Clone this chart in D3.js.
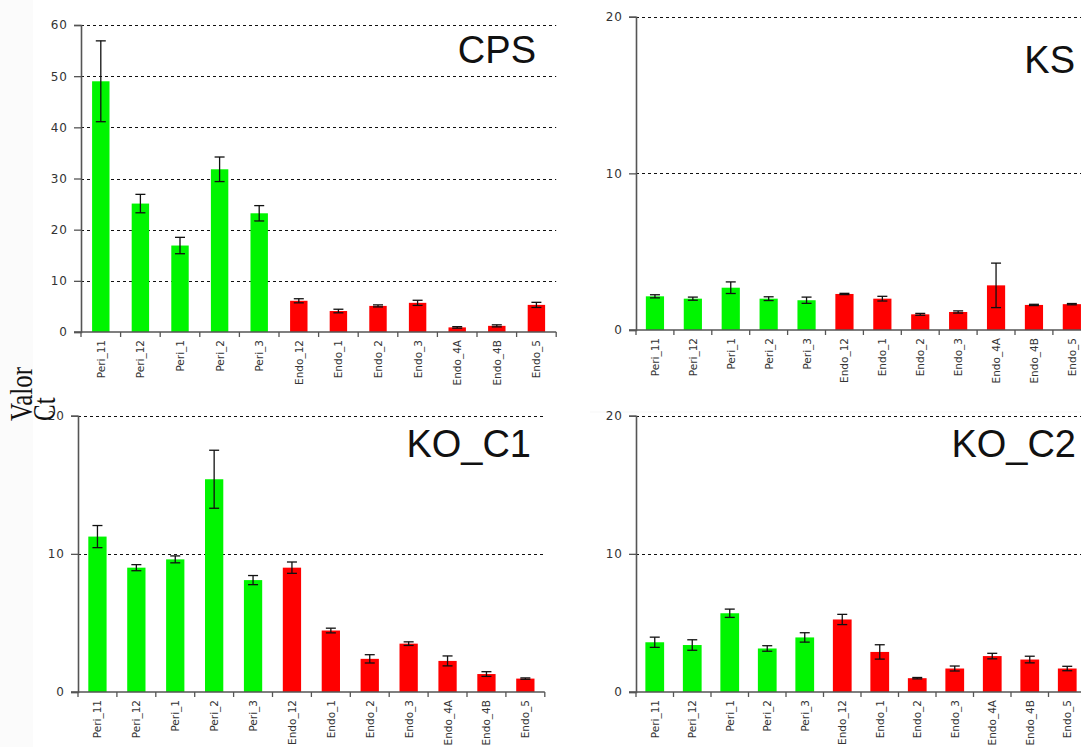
<!DOCTYPE html>
<html>
<head>
<meta charset="utf-8">
<script src="https://cdn.jsdelivr.net/npm/d3@7"></script>
<style>
  html, body { margin: 0; padding: 0; background: #fbfbfb; }
  svg { display: block; }
</style>
</head>
<body>
<svg id="fig" width="1081" height="747"></svg>
<script>
// Sample names on the x axis (five pericarp, seven endosperm samples)
const categories = ["Peri_11", "Peri_12", "Peri_1", "Peri_2", "Peri_3",
  "Endo_12", "Endo_1", "Endo_2", "Endo_3", "Endo_4A", "Endo_4B", "Endo_5"];
const tissue = ["Peri", "Peri", "Peri", "Peri", "Peri",
  "Endo", "Endo", "Endo", "Endo", "Endo", "Endo", "Endo"];

// Gene CPS
const cpsMean = [49.0, 25.1, 16.9, 31.8, 23.2, 6.1, 4.1, 5.1, 5.7, 0.9, 1.2, 5.3];
const cpsErr  = [7.9, 1.8, 1.6, 2.4, 1.5, 0.4, 0.35, 0.2, 0.5, 0.15, 0.2, 0.5];
// Gene KS
const ksMean = [2.15, 2.0, 2.7, 2.0, 1.9, 2.3, 2.0, 1.0, 1.15, 2.85, 1.6, 1.65];
const ksErr  = [0.1, 0.1, 0.37, 0.12, 0.2, 0.04, 0.15, 0.06, 0.07, 1.42, 0.04, 0.04];
// Gene KO_C1
const koc1Mean = [11.25, 9.0, 9.6, 15.4, 8.1, 9.0, 4.45, 2.4, 3.5, 2.25, 1.3, 0.97];
const koc1Err  = [0.8, 0.22, 0.25, 2.1, 0.33, 0.41, 0.17, 0.3, 0.13, 0.36, 0.17, 0.05];
// Gene KO_C2
const koc2Mean = [3.6, 3.4, 5.7, 3.15, 3.95, 5.25, 2.9, 1.0, 1.7, 2.6, 2.35, 1.7];
const koc2Err  = [0.37, 0.38, 0.3, 0.2, 0.34, 0.37, 0.52, 0.05, 0.18, 0.2, 0.24, 0.16];

// Y tick values per panel
const cpsTicks = [0, 10, 20, 30, 40, 50, 60];
const smallTicks = [0, 10, 20];

const axisTitleLines = ["Valor", "Ct"];

const colour = { Peri: "#00f500", Endo: "#ff0000" };

const svg = d3.select("#fig");

// Each panel sits on its own white card; cards overlap slightly like pasted images
const panels = [
  { name: "KO_C2", mean: koc2Mean, err: koc2Err, ticks: smallTicks, yMax: 20,
    card: [590, 413, 491, 334], x0: 636, band: 37.5, y0: 692, yTop: 415.7, barFrac: 0.5,
    title: [1076, 457] },
  { name: "KO_C1", mean: koc1Mean, err: koc1Err, ticks: smallTicks, yMax: 20,
    card: [33, 396, 557, 351], x0: 78, band: 38.9, y0: 692, yTop: 415.7, barFrac: 0.47,
    title: [531, 457] },
  { name: "KS", mean: ksMean, err: ksErr, ticks: smallTicks, yMax: 20,
    card: [590, 0, 491, 411], x0: 636, band: 37.9, y0: 330, yTop: 16.7, barFrac: 0.48,
    title: [1075, 73] },
  { name: "CPS", mean: cpsMean, err: cpsErr, ticks: cpsTicks, yMax: 60,
    card: [33, 0, 557, 396], x0: 81, band: 39.6, y0: 332, yTop: 25, barFrac: 0.44,
    title: [536, 63] }
];

panels.forEach(p => {
  const g = svg.append("g");
  g.append("rect")
    .attr("x", p.card[0]).attr("y", p.card[1])
    .attr("width", p.card[2]).attr("height", p.card[3])
    .attr("fill", "#ffffff");

  const x = d3.scaleBand()
    .domain(categories)
    .range([p.x0, p.x0 + p.band * categories.length])
    .paddingInner(0).paddingOuter(0);
  const y = d3.scaleLinear().domain([0, p.yMax]).range([p.y0, p.yTop]);
  const bw = x.bandwidth() * p.barFrac;

  // dashed gridlines
  g.selectAll("line.grid")
    .data(p.ticks.filter(t => t > 0))
    .join("line")
    .attr("x1", p.x0).attr("x2", x.range()[1])
    .attr("y1", d => Math.round(y(d)) + 0.5).attr("y2", d => Math.round(y(d)) + 0.5)
    .attr("stroke", "#111").attr("stroke-width", 1)
    .attr("stroke-dasharray", "3,3");

  // y axis
  const yAxis = d3.axisLeft(y).tickValues(p.ticks).tickSize(7).tickPadding(6)
    .tickFormat(d3.format("d"));
  const ya = g.append("g").attr("transform", `translate(${p.x0},0)`).call(yAxis);
  ya.select(".domain").attr("stroke", "#555").attr("stroke-width", 1.6);
  ya.selectAll(".tick line").attr("stroke", "#555").attr("stroke-width", 1.3);
  ya.selectAll(".tick text")
    .attr("font-family", "DejaVu Sans, Verdana, sans-serif")
    .attr("font-size", 12).attr("fill", "#333").attr("letter-spacing", 1);

  // bars
  g.selectAll("rect.bar")
    .data(categories)
    .join("rect")
    .attr("x", (d) => x(d) + (x.bandwidth() - bw) / 2)
    .attr("width", bw)
    .attr("y", (d, i) => y(p.mean[i]))
    .attr("height", (d, i) => y(0) - y(p.mean[i]))
    .attr("fill", (d, i) => colour[tissue[i]]);

  // error bars
  const eb = g.selectAll("g.err").data(categories).join("g")
    .attr("stroke", "#111").attr("stroke-width", 1.3);
  const cap = 5;
  eb.append("line")
    .attr("x1", d => x(d) + x.bandwidth() / 2).attr("x2", d => x(d) + x.bandwidth() / 2)
    .attr("y1", (d, i) => y(p.mean[i] + p.err[i])).attr("y2", (d, i) => y(p.mean[i] - p.err[i]));
  eb.append("line")
    .attr("x1", d => x(d) + x.bandwidth() / 2 - cap).attr("x2", d => x(d) + x.bandwidth() / 2 + cap)
    .attr("y1", (d, i) => y(p.mean[i] + p.err[i])).attr("y2", (d, i) => y(p.mean[i] + p.err[i]));
  eb.append("line")
    .attr("x1", d => x(d) + x.bandwidth() / 2 - cap).attr("x2", d => x(d) + x.bandwidth() / 2 + cap)
    .attr("y1", (d, i) => y(p.mean[i] - p.err[i])).attr("y2", (d, i) => y(p.mean[i] - p.err[i]));

  // x axis: baseline with ticks at band boundaries, rotated sample names
  g.append("line")
    .attr("x1", p.x0 - 7).attr("x2", x.range()[1])
    .attr("y1", p.y0).attr("y2", p.y0)
    .attr("stroke", "#555").attr("stroke-width", 1.6);
  g.selectAll("line.xt")
    .data(d3.range(categories.length + 1))
    .join("line")
    .attr("x1", i => p.x0 + i * p.band).attr("x2", i => p.x0 + i * p.band)
    .attr("y1", p.y0).attr("y2", p.y0 + 5)
    .attr("stroke", "#555").attr("stroke-width", 1.3);
  g.selectAll("text.xl")
    .data(categories)
    .join("text")
    .attr("transform", d => `translate(${x(d) + x.bandwidth() / 2 + 4},${p.y0 + 8}) rotate(-90)`)
    .attr("text-anchor", "end")
    .attr("font-family", "DejaVu Sans, Verdana, sans-serif")
    .attr("font-size", 10.5).attr("fill", "#333")
    .text(d => d);

  // gene name
  g.append("text")
    .attr("x", p.title[0]).attr("y", p.title[1])
    .attr("text-anchor", "end")
    .attr("font-family", "Liberation Sans, Arial, sans-serif")
    .attr("font-size", 38).attr("fill", "#111")
    .text(p.name);
});

// Shared y-axis title, two stacked lines rotated
const at = svg.append("text")
  .attr("transform", "translate(32,421) rotate(-90) scale(1,1.25)")
  .attr("font-family", "Liberation Serif, Times New Roman, serif")
  .attr("font-size", 25).attr("fill", "#111");
at.selectAll("tspan").data(axisTitleLines).join("tspan")
  .attr("x", 0).attr("dy", (d, i) => i === 0 ? 0 : 18.4)
  .text(d => d);
</script>
</body>
</html>
